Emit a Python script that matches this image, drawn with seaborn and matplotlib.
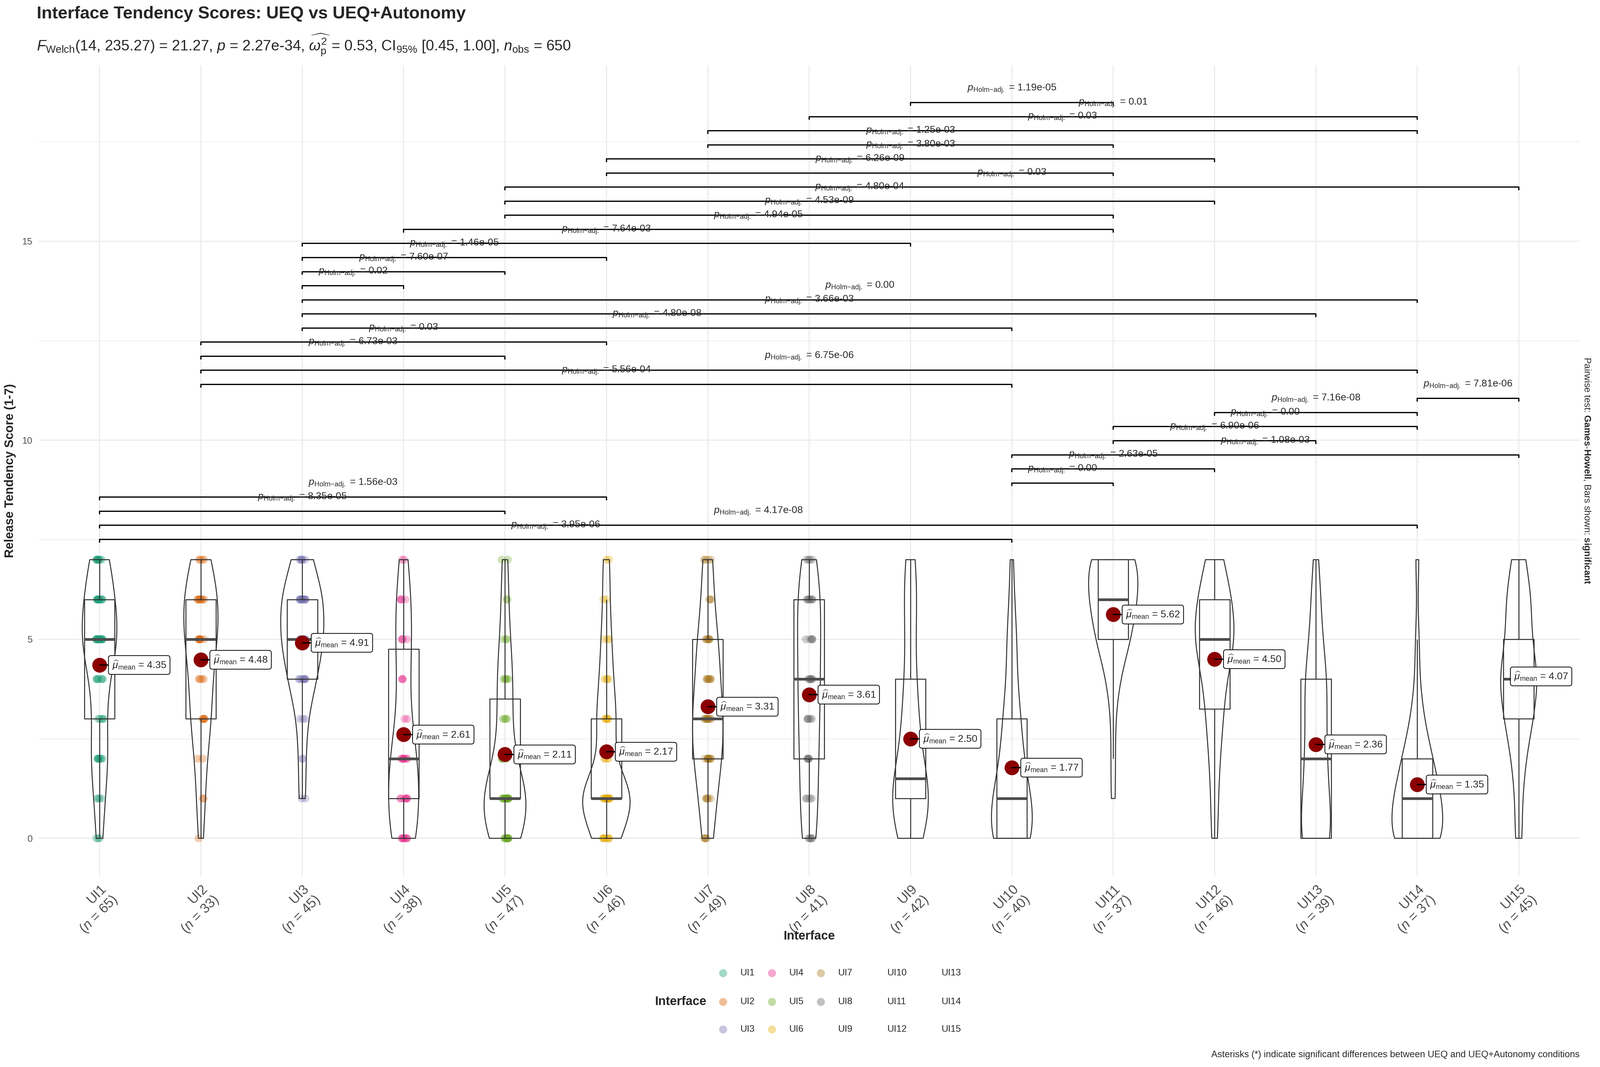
import numpy as np
import pandas as pd
import matplotlib
matplotlib.use("Agg")
import matplotlib.pyplot as plt
from matplotlib.lines import Line2D
import seaborn as sns

# ---------------- data ----------------
interfaces = ["UI1", "UI2", "UI3", "UI4", "UI5", "UI6", "UI7", "UI8",
              "UI9", "UI10", "UI11", "UI12", "UI13", "UI14", "UI15"]
score_levels = [0, 1, 2, 3, 4, 5, 6, 7]
# number of responses at each score level 0..7
counts_UI1 = [3, 4, 8, 5, 7, 17, 12, 9]
counts_UI2 = [1, 2, 2, 5, 4, 7, 8, 4]
counts_UI3 = [0, 2, 2, 3, 8, 12, 12, 6]
counts_UI4 = [8, 7, 8, 2, 3, 4, 4, 2]
counts_UI5 = [10, 16, 5, 4, 5, 3, 2, 2]
counts_UI6 = [8, 17, 4, 6, 4, 3, 2, 2]
counts_UI7 = [4, 5, 9, 10, 7, 7, 3, 4]
counts_UI8 = [5, 4, 5, 5, 6, 5, 7, 4]
counts_UI9 = [6, 15, 4, 5, 3, 2, 4, 3]
counts_UI10 = [13, 10, 5, 5, 2, 3, 1, 1]
counts_UI11 = [0, 1, 1, 1, 3, 8, 11, 12]
counts_UI12 = [2, 2, 3, 5, 6, 13, 10, 5]
counts_UI13 = [11, 5, 6, 4, 7, 2, 3, 1]
counts_UI14 = [13, 11, 7, 3, 1, 1, 0, 1]
counts_UI15 = [2, 2, 4, 8, 11, 7, 7, 4]
all_counts = [counts_UI1, counts_UI2, counts_UI3, counts_UI4, counts_UI5,
              counts_UI6, counts_UI7, counts_UI8, counts_UI9, counts_UI10,
              counts_UI11, counts_UI12, counts_UI13, counts_UI14, counts_UI15]

# significant pairwise comparisons (Games-Howell, Holm adjusted)
pair_group1 = ["UI1", "UI1", "UI1", "UI1", "UI10", "UI10", "UI10", "UI11",
               "UI11", "UI12", "UI14", "UI2", "UI2", "UI2", "UI2", "UI3",
               "UI3", "UI3", "UI3", "UI3", "UI3", "UI3", "UI4", "UI5",
               "UI5", "UI5", "UI6", "UI6", "UI7", "UI7", "UI8", "UI9"]
pair_group2 = ["UI10", "UI14", "UI5", "UI6", "UI11", "UI12", "UI15", "UI13",
               "UI14", "UI14", "UI15", "UI10", "UI14", "UI5", "UI6", "UI10",
               "UI13", "UI14", "UI4", "UI5", "UI6", "UI9", "UI11", "UI11",
               "UI12", "UI15", "UI11", "UI12", "UI11", "UI14", "UI14", "UI11"]
pair_p = ["3.95e-06", "4.17e-08", "8.35e-05", "1.56e-03", "0.00", "2.63e-05",
          "1.08e-03", "6.90e-06", "0.00", "7.16e-08", "7.81e-06", "5.56e-04",
          "6.75e-06", "6.73e-03", "0.03", "4.80e-08", "3.66e-03", "0.00",
          "0.02", "7.60e-07", "1.46e-05", "7.64e-03", "4.94e-05", "4.53e-09",
          "4.80e-04", "0.03", "6.26e-09", "3.80e-03", "1.25e-03", "0.03",
          "0.01", "1.19e-05"]

point_colors = ["#1B9E77", "#D95F02", "#7570B3", "#E7298A",
                "#66A61E", "#E6AB02", "#A6761D", "#666666"]

title = "Interface Tendency Scores: UEQ vs UEQ+Autonomy"
subtitle = (r"$\mathit{F}_{\mathrm{Welch}}$(14, 235.27) = 21.27, $\mathit{p}$ = 2.27e-34, "
            r"$\widehat{\omega_{\mathrm{p}}^{2}}$ = 0.53, CI$_{95\%}$ [0.45, 1.00], "
            r"$\mathit{n}_{\mathrm{obs}}$ = 650")
caption = "Asterisks (*) indicate significant differences between UEQ and UEQ+Autonomy conditions"
side_note = r"Pairwise test: $\mathbf{Games}$-$\mathbf{Howell}$, Bars shown: $\mathbf{significant}$"

# ---------------- build long table ----------------
rows = []
for ui, cnt in zip(interfaces, all_counts):
    vals = np.repeat(score_levels, cnt)
    rows.append(pd.DataFrame({"Interface": ui, "Score": vals.astype(float)}))
df = pd.concat(rows, ignore_index=True)
df_pts = df[df["Interface"].isin(interfaces[:8])]
n_per = df.groupby("Interface")["Score"].size()
means = df.groupby("Interface")["Score"].mean()


def nrd0_factor(kde):
    x = np.asarray(kde.dataset).ravel()
    sd = x.std(ddof=1)
    q75, q25 = np.percentile(x, [75, 25])
    lo = min(sd, (q75 - q25) / 1.34)
    if lo <= 0:
        lo = sd
    return 0.9 * lo * len(x) ** (-0.2) / sd


# ---------------- style ----------------
sns.set_style("white")
plt.rcParams["font.family"] = ["Liberation Sans", "DejaVu Sans"]
plt.rcParams["mathtext.fontset"] = "custom"
plt.rcParams["mathtext.rm"] = "Liberation Sans"
plt.rcParams["mathtext.it"] = "Liberation Sans:italic"
plt.rcParams["mathtext.bf"] = "Liberation Sans:bold"

fig = plt.figure(figsize=(18, 12), dpi=300)
ax = fig.add_axes([0.0242, 0.1789, 0.9630, 0.7599])

sns.stripplot(data=df_pts, x="Interface", y="Score", order=interfaces,
              hue="Interface", hue_order=interfaces[:8], palette=point_colors,
              jitter=0.035, size=6.5, alpha=0.3, linewidth=0, legend=False,
              ax=ax, zorder=2)
sns.boxplot(data=df, x="Interface", y="Score", order=interfaces, width=0.3,
            fill=False, color="#333333", linewidth=0.8, showfliers=False,
            medianprops={"linewidth": 2.2, "color": "#4D4D4D"},
            capprops={"visible": False}, ax=ax, zorder=3)
sns.violinplot(data=df, x="Interface", y="Score", order=interfaces,
               fill=False, color="#333333", linewidth=0.8, width=0.5,
               density_norm="area", common_norm=False, cut=0, inner=None,
               bw_method=nrd0_factor, ax=ax, zorder=3)
sns.pointplot(data=df, x="Interface", y="Score", order=interfaces,
              estimator="mean", errorbar=None, color="#8B0000",
              linestyle="none", marker="o", markersize=12,
              markeredgewidth=0, ax=ax, zorder=6)

# mean labels
xmax_lim = len(interfaces) - 1 + 0.6
for i, ui in enumerate(interfaces):
    m = means[ui]
    xt = i + 0.125
    if xt + 0.55 > xmax_lim:
        xt = i - 0.045
    ax.annotate(rf"$\widehat{{\mu}}_{{\mathrm{{mean}}}}$ = {m:.2f}",
                xy=(i, m), xytext=(xt, m), ha="left", va="center", fontsize=8,
                bbox=dict(boxstyle="round,pad=0.38,rounding_size=0.25",
                          fc="white", ec="black", lw=0.6),
                arrowprops=dict(arrowstyle="-", color="black", lw=1.0,
                                shrinkA=0, shrinkB=0, relpos=(0, 0.5)),
                zorder=8)

# significance brackets
y_base, y_step, tip = 7.51, 0.354, 0.08
for k, (g1, g2, p) in enumerate(zip(pair_group1, pair_group2, pair_p)):
    x1, x2 = interfaces.index(g1), interfaces.index(g2)
    y = y_base + k * y_step
    ax.plot([x1, x1, x2, x2], [y - tip, y, y, y - tip], color="black",
            lw=1.0, solid_capstyle="butt", zorder=4)
    ax.text((x1 + x2) / 2, y + 0.30,
            rf"$\mathit{{p}}_{{\mathrm{{Holm{{-}}adj.}}}}$ = {p}",
            ha="center", va="baseline", fontsize=8, zorder=5)

# axes cosmetics
ax.set_xlim(-0.6, len(interfaces) - 1 + 0.6)
ax.set_ylim(-0.95, 19.42)
ax.set_yticks([0, 5, 10, 15])
ax.set_yticks([2.5, 7.5, 12.5, 17.5], minor=True)
ax.set_xticks(range(len(interfaces)))
ax.set_xticklabels([f"{ui}\n($n$ = {n_per[ui]})" for ui in interfaces],
                   rotation=45, ha="right", va="top", rotation_mode="anchor",
                   multialignment="right", fontsize=11, color="#4D4D4D")
ax.tick_params(axis="y", labelsize=7.5, labelcolor="#4D4D4D")
ax.tick_params(axis="both", which="major", length=3, width=0.8,
               color="#333333", pad=2)
ax.tick_params(axis="both", which="minor", length=0)
ax.set_axisbelow(True)
ax.grid(True, which="major", axis="both", color="#EBEBEB", lw=0.9)
ax.grid(True, which="minor", axis="y", color="#EBEBEB", lw=0.5)
for s in ax.spines.values():
    s.set_visible(False)

ax.set_xlabel("Interface", fontsize=10, fontweight="bold", va="center")
ax.xaxis.set_label_coords(0.5, -0.0742)
ax.set_ylabel("Release Tendency Score (1-7)", fontsize=10, fontweight="bold",
              va="center")
ax.yaxis.set_label_coords(-0.0185, 0.5)

# titles and notes
fig.text(0.023, 0.9945, title, fontsize=14, fontweight="bold", ha="left", va="top")
fig.text(0.023, 0.958, subtitle, fontsize=12, ha="left", va="center")
fig.text(0.9917, 0.559, side_note, fontsize=7.5, rotation=-90,
         ha="center", va="center")
fig.text(0.9872, 0.0115, caption, fontsize=7.5, ha="right", va="center")

# legend (column-major, 3 rows x 5 columns)
W, H = 1568.0, 1045.0
fig.text(667 / W, 1 - 981 / H, "Interface", fontsize=10, fontweight="bold",
         ha="center", va="center")
row_y = [953, 981, 1008]
col_x = [725.6, 773.5, 821.4, 869.6, 922.8]
for k, ui in enumerate(interfaces):
    c, r = k // 3, k % 3
    tx, ty = col_x[c] / W, 1 - row_y[r] / H
    if k < len(point_colors):
        fig.add_artist(Line2D([(col_x[c] - 17) / W], [ty], marker="o",
                              markersize=6.5, color=point_colors[k], alpha=0.4,
                              markeredgewidth=0, linestyle="none",
                              transform=fig.transFigure))
    fig.text(tx, ty, ui, fontsize=7.5, ha="left", va="center")

fig.savefig("out.png", dpi=300, facecolor="white")
